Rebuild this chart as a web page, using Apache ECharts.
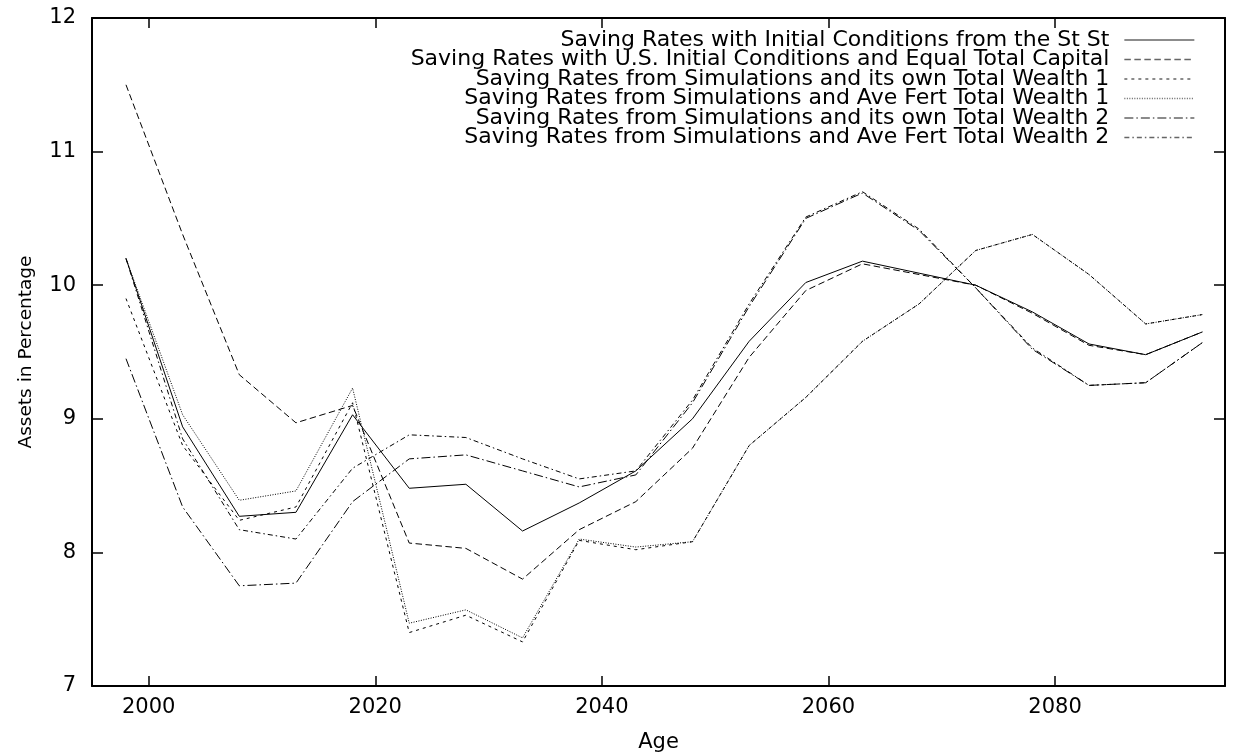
<!DOCTYPE html>
<html>
<head>
<meta charset="utf-8">
<script src="https://cdn.jsdelivr.net/npm/echarts@6/dist/echarts.min.js"></script>
<style>
html,body{margin:0;padding:0;background:#fff;}
#chart{width:1234px;height:753px;}
</style>
</head>
<body>
<div id="chart"></div>
<script>
const years = [1998, 2003, 2008, 2013, 2018, 2023, 2028, 2033, 2038, 2043, 2048, 2053, 2058, 2063, 2068, 2073, 2078, 2083, 2088, 2093];

const seriesNames = [
  'Saving Rates with Initial Conditions from the St St',
  'Saving Rates with U.S. Initial Conditions and Equal Total Capital',
  'Saving Rates from Simulations and its own Total Wealth 1',
  'Saving Rates from Simulations and Ave Fert Total Wealth 1',
  'Saving Rates from Simulations and its own Total Wealth 2',
  'Saving Rates from Simulations and Ave Fert Total Wealth 2'
];

const stSt        = [10.20, 8.94, 8.27, 8.30, 9.03, 8.48, 8.51, 8.16, 8.37, 8.61, 9.00, 9.58, 10.02, 10.18, 10.09, 10.00, 9.80, 9.56, 9.48, 9.65];
const usInitial   = [11.50, 10.38, 9.33, 8.97, 9.10, 8.07, 8.03, 7.80, 8.17, 8.38, 8.78, 9.46, 9.96, 10.16, 10.08, 10.00, 9.79, 9.55, 9.48, 9.65];
const ownWealth1  = [9.90, 8.80, 8.24, 8.34, 9.12, 7.40, 7.53, 7.33, 8.09, 8.02, 8.08, 8.80, 9.16, 9.58, 9.86, 10.26, 10.38, 10.08, 9.71, 9.78];
const aveWealth1  = [10.20, 9.03, 8.39, 8.46, 9.23, 7.47, 7.57, 7.36, 8.10, 8.04, 8.08, 8.80, 9.16, 9.58, 9.86, 10.26, 10.38, 10.08, 9.71, 9.78];
const ownWealth2  = [9.45, 8.34, 7.75, 7.77, 8.38, 8.70, 8.73, 8.61, 8.49, 8.58, 9.12, 9.84, 10.50, 10.69, 10.41, 9.98, 9.52, 9.25, 9.27, 9.57];
const aveWealth2  = [10.20, 8.85, 8.17, 8.10, 8.63, 8.88, 8.86, 8.70, 8.55, 8.61, 9.14, 9.86, 10.51, 10.70, 10.42, 9.98, 9.53, 9.25, 9.27, 9.57];

const xTickLabels = [2000, 2020, 2040, 2060, 2080];
const yTickLabels = [7, 8, 9, 10, 11, 12];

const allValues = [stSt, usInitial, ownWealth1, aveWealth1, ownWealth2, aveWealth2];
const dashes = ['solid', [6.5, 3.5], [3, 4], [1, 1.5], [9, 3, 1.5, 3], [5, 3, 1.5, 3]];

const FONT = '"DejaVu Sans", Verdana, sans-serif';

const chart = echarts.init(document.getElementById('chart'), null, {renderer: 'canvas'});

const series = allValues.map((vals, i) => ({
  name: seriesNames[i],
  type: 'line',
  xAxisIndex: 0,
  yAxisIndex: 0,
  data: years.map((y, k) => [y, vals[k]]),
  symbol: 'none',
  showSymbol: false,
  smooth: false,
  lineStyle: {color: '#000', width: 1, type: dashes[i]},
  itemStyle: {color: '#000'},
  emphasis: {disabled: true},
  z: 10 - i
}));

const legendCenters = [40, 59.5, 79, 98.5, 118, 137.5];
const legends = seriesNames.map((n, i) => ({
  data: [n],
  right: 39,
  top: legendCenters[i] - 11,
  orient: 'horizontal',
  align: 'right',
  itemWidth: 70,
  itemHeight: 22,
  padding: 0,
  selectedMode: false,
  itemStyle: {color: 'rgba(0,0,0,0)', borderColor: 'rgba(0,0,0,0)', borderWidth: 0},
  lineStyle: {color: '#666', width: 1.3},
  textStyle: {fontFamily: FONT, fontSize: 22, lineHeight: 22, color: '#000', padding: [0, 10, 0, 0]}
}));

const xLabelFmt = v => (xTickLabels.indexOf(v) >= 0 ? String(v) : '');
const yLabelFmt = v => (yTickLabels.indexOf(v) >= 0 ? String(v) : '');

chart.setOption({
  animation: false,
  backgroundColor: '#fff',
  grid: {left: 92, right: 9, top: 18, bottom: 67, containLabel: false, outerBoundsMode: 'none'},
  legend: legends,
  xAxis: [{
    type: 'value', position: 'bottom', min: 1995, max: 2095, splitNumber: 5,
    axisLine: {show: true, onZero: false, lineStyle: {color: '#000', width: 2}},
    axisTick: {show: true, inside: true, length: 10, lineStyle: {color: '#000', width: 1.5}},
    splitLine: {show: false},
    axisLabel: {show: true, showMinLabel: false, showMaxLabel: false, formatter: xLabelFmt, color: '#000', fontFamily: FONT, fontSize: 21, margin: 11},
    name: 'Age', nameLocation: 'middle', nameGap: 46,
    nameTextStyle: {color: '#000', fontFamily: FONT, fontSize: 21}
  }, {
    type: 'value', position: 'top', min: 1995, max: 2095, splitNumber: 5,
    axisLine: {show: true, onZero: false, lineStyle: {color: '#000', width: 2}},
    axisTick: {show: true, inside: true, length: 10, lineStyle: {color: '#000', width: 1.5}},
    splitLine: {show: false},
    axisLabel: {show: false}
  }],
  yAxis: [{
    type: 'value', position: 'left', min: 7, max: 12, interval: 1,
    axisLine: {show: true, onZero: false, lineStyle: {color: '#000', width: 2}},
    axisTick: {show: true, inside: true, length: 11, lineStyle: {color: '#000', width: 1.5}},
    splitLine: {show: false},
    axisLabel: {show: true, formatter: yLabelFmt, color: '#000', fontFamily: FONT, fontSize: 21, margin: 16},
    name: 'Assets in Percentage', nameLocation: 'middle', nameGap: 56, nameRotate: 90,
    nameTextStyle: {color: '#000', fontFamily: FONT, fontSize: 18.5}
  }, {
    type: 'value', position: 'right', min: 7, max: 12, interval: 1,
    axisLine: {show: true, onZero: false, lineStyle: {color: '#000', width: 2}},
    axisTick: {show: true, inside: true, length: 11, lineStyle: {color: '#000', width: 1.5}},
    splitLine: {show: false},
    axisLabel: {show: false}
  }],
  series: series
});
</script>
</body>
</html>
